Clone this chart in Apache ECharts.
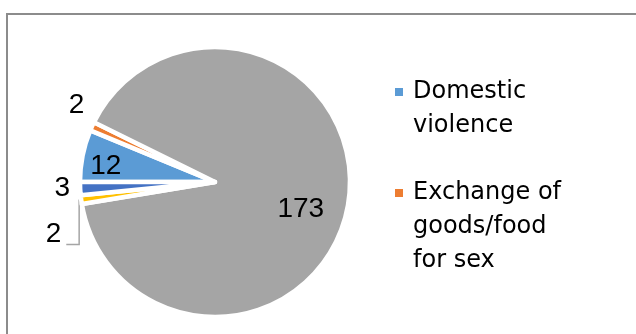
<!DOCTYPE html>
<html>
<head>
<meta charset="utf-8">
<script src="https://cdn.jsdelivr.net/npm/echarts@6/dist/echarts.min.js"></script>
<style>
  html, body { margin: 0; padding: 0; background: #fff; }
  #main { width: 636px; height: 334px; }
</style>
</head>
<body>
<div id="main"></div>
<script>
// 类别与数值
const categories = ["Domestic violence", "Exchange of goods/food for sex", "Other", "Category 4", "Category 5"];
const values = [12, 2, 173, 2, 3];
const colors = ["#5B9BD5", "#ED7D31", "#A5A5A5", "#FFC000", "#4472C4"];
// 图例里的换行文字 (前面加空行, 让第一行对齐图标)
const legendText = {
  "Domestic violence": "\nDomestic\nviolence",
  "Exchange of goods/food for sex": "\n\nExchange of\ngoods/food\nfor sex"
};
// 标签偏移 (相对库计算出的位置)
const labelShift = [[-40, -2], [26, -15], [16, 17], [15, 33], [25, -1]];

let myChart = echarts.init(document.getElementById("main"));
myChart.setOption({
  animation: false,
  color: colors,
  legend: [
    {
      orient: "vertical",
      left: 393,
      top: 41,
      padding: 0,
      icon: "rect",
      itemWidth: 10,
      itemHeight: 10,
      data: [categories[0]],
      formatter: name => legendText[name],
      textStyle: {
        fontFamily: "DejaVu Sans",
        fontSize: 24,
        lineHeight: 34,
        color: "#000",
        padding: [0, 0, 0, 4]
      }
    },
    {
      orient: "vertical",
      left: 393,
      top: 108,
      padding: 0,
      icon: "rect",
      itemWidth: 10,
      itemHeight: 10,
      data: [categories[1]],
      formatter: name => legendText[name],
      textStyle: {
        fontFamily: "DejaVu Sans",
        fontSize: 24,
        lineHeight: 34,
        color: "#000",
        padding: [0, 0, 0, 4]
      }
    }
  ],
  graphic: [
    {
      type: "rect",
      shape: { x: 7, y: 14, width: 700, height: 400 },
      style: { fill: "none", stroke: "#8c8c8c", lineWidth: 2 },
      silent: true
    }
  ],
  series: [
    {
      type: "pie",
      center: [215, 182],
      radius: 135,
      startAngle: 180,
      clockwise: true,
      avoidLabelOverlap: false,
      itemStyle: { borderColor: "#fff", borderWidth: 4.5 },
      label: {
        show: true,
        position: "outside",
        formatter: "{c}",
        fontFamily: "Liberation Sans",
        fontSize: 28,
        color: "#000"
      },
      labelLine: { show: false, length: 15, length2: 15, lineStyle: { color: "#A5A5A5", width: 1.5 } },
      labelLayout: p => {
        let s = labelShift[p.dataIndex];
        let out = { dx: s[0], dy: s[1] };
        if (p.dataIndex === 3 && p.labelLinePoints) {
          // 引导线: 从扇区边缘竖直向下, 再横向到标签
          let start = p.labelLinePoints[0];
          let r = p.labelRect;
          let yEnd = r.y + s[1] + r.height * 0.85;
          let xEnd = r.x + s[0] + r.width + 5;
          out.labelLinePoints = [[start[0] - 2, start[1]], [start[0] - 2, yEnd], [xEnd, yEnd]];
        }
        return out;
      },
      data: categories.map((c, i) => {
        let d = { name: c, value: values[i] };
        if (i === 0 || i === 2) d.label = { position: "inside" };
        if (i === 3) d.labelLine = { show: true, smooth: false };
        return d;
      })
    }
  ]
});
</script>
</body>
</html>
